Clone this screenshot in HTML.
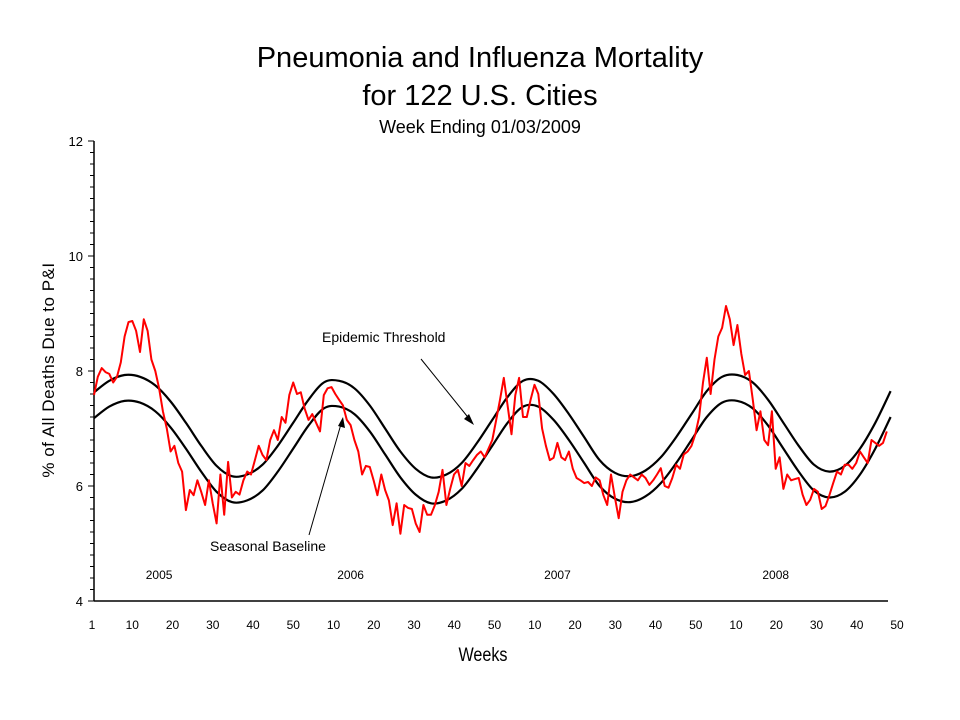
<!DOCTYPE html>
<html><head><meta charset="utf-8"><style>
body{margin:0;background:#fff;}
svg{display:block;font-family:"Liberation Sans",sans-serif;}
</style></head><body>
<svg id="chart" width="960" height="720" viewBox="0 0 960 720" xmlns="http://www.w3.org/2000/svg">
<text x="480" y="67" text-anchor="middle" font-size="29">Pneumonia and Influenza Mortality</text>
<text x="480" y="105" text-anchor="middle" font-size="29">for 122 U.S. Cities</text>
<text x="480" y="133" text-anchor="middle" font-size="18">Week Ending 01/03/2009</text>
<text transform="translate(54,370) rotate(-90)" text-anchor="middle" font-size="17" letter-spacing="0.5">% of All Deaths Due to P&amp;I</text>
<text x="483" y="661" text-anchor="middle" font-size="19" transform="translate(483,0) scale(0.85,1) translate(-483,0)">Weeks</text>
<g id="axes"></g>
<g id="series"></g>
<text x="322" y="342" font-size="14">Epidemic Threshold</text>
<line x1="421" y1="359" x2="471" y2="421" stroke="#000" stroke-width="1"/>
<polygon points="474,425 464,419 469,414" fill="#000"/>
<text x="210" y="551" font-size="14">Seasonal Baseline</text>
<line x1="309" y1="535" x2="341" y2="424" stroke="#000" stroke-width="1"/>
<polygon points="343,417 345,428 338,426" fill="#000"/>
</svg>
<script>
const years = ["2005","2006","2007","2008"];
const yearCenterWeeks = [17, 67, 121, 178];
const xTickLabels = ["1","10","20","30","40","50","10","20","30","40","50","10","20","30","40","50","10","20","30","40","50"];
const yTicks = [4,6,8,10,12];
const piValues = [7.58,7.9,8.05,7.98,7.95,7.8,7.9,8.15,8.6,8.85,8.87,8.7,8.33,8.9,8.7,8.2,8.0,7.7,7.3,7.0,6.6,6.7,6.4,6.25,5.58,5.93,5.84,6.1,5.9,5.67,6.1,5.7,5.35,6.2,5.5,6.42,5.8,5.9,5.85,6.1,6.25,6.2,6.45,6.7,6.54,6.45,6.8,6.97,6.8,7.2,7.1,7.58,7.8,7.6,7.63,7.35,7.15,7.25,7.1,6.95,7.58,7.7,7.72,7.6,7.5,7.4,7.15,7.06,6.8,6.6,6.2,6.35,6.33,6.1,5.84,6.2,5.93,5.75,5.32,5.7,5.17,5.67,5.62,5.6,5.35,5.2,5.67,5.5,5.5,5.67,5.9,6.28,5.67,5.95,6.2,6.28,6.0,6.4,6.35,6.45,6.54,6.6,6.5,6.65,6.8,7.15,7.5,7.88,7.4,6.9,7.58,7.88,7.2,7.2,7.5,7.76,7.6,7.0,6.7,6.45,6.49,6.75,6.5,6.45,6.6,6.3,6.14,6.1,6.05,6.07,6.0,6.15,6.1,5.84,5.67,6.2,5.8,5.44,5.9,6.1,6.2,6.15,6.1,6.2,6.14,6.02,6.1,6.2,6.31,6.0,5.97,6.14,6.37,6.3,6.55,6.6,6.7,6.9,7.2,7.8,8.23,7.6,8.2,8.6,8.75,9.13,8.9,8.45,8.8,8.3,7.93,8.0,7.5,6.97,7.3,6.8,6.71,7.3,6.3,6.5,5.95,6.2,6.1,6.12,6.14,5.85,5.67,5.76,5.95,5.9,5.6,5.65,5.84,6.05,6.25,6.2,6.37,6.37,6.3,6.4,6.6,6.5,6.4,6.8,6.75,6.7,6.75,6.95];
const baselineValues = [7.18,7.38,7.48,7.45,7.30,7.02,6.65,6.25,5.90,5.72,5.75,5.92,6.25,6.65,7.05,7.35,7.38,7.25,6.95,6.55,6.15,5.85,5.70,5.75,5.95,6.30,6.70,7.10,7.38,7.38,7.15,6.80,6.40,6.00,5.78,5.72,5.82,6.05,6.40,6.80,7.20,7.45,7.48,7.35,7.05,6.65,6.25,5.92,5.80,5.90,6.20,6.65,7.20];
const thresholdValues = [7.63,7.83,7.93,7.90,7.75,7.47,7.10,6.70,6.35,6.17,6.20,6.37,6.70,7.10,7.50,7.80,7.83,7.70,7.40,7.00,6.60,6.30,6.15,6.20,6.40,6.75,7.15,7.55,7.83,7.83,7.60,7.25,6.85,6.45,6.23,6.17,6.27,6.50,6.85,7.25,7.65,7.90,7.93,7.80,7.50,7.10,6.70,6.37,6.25,6.35,6.65,7.10,7.65];
const NS='http://www.w3.org/2000/svg';
const xW = w => 94 + w*3.83;
const yV = v => 601 - (v-4)*57.5;
const xLab = i => 92 + i*40.25;
function mk(tag, attrs, parent){const e=document.createElementNS(NS,tag);for(const k in attrs)e.setAttribute(k,attrs[k]);parent.appendChild(e);return e;}
const axes=document.getElementById('axes'), series=document.getElementById('series');
let el=mk('line',{x1:94,y1:141,x2:94,y2:601,stroke:'#000','stroke-width':1.5},axes);


el=mk('line',{x1:94,y1:601,x2:888,y2:601,stroke:'#000','stroke-width':1.5},axes);


for(let v=4; v<=12.001; v+=0.2){
  const major=Math.abs(v-Math.round(v/2)*2)<0.01;
  el=mk('line',{x1:major?88:90,y1:yV(v),x2:94,y2:yV(v),stroke:'#000','stroke-width':1},axes);
  
  
}
yTicks.forEach(v=>{
  el=mk('text',{x:83,y:yV(v)+5,'text-anchor':'end','font-size':13},axes);
  el.textContent=v;
  
  
});
xTickLabels.forEach((t,i)=>{
  el=mk('text',{x:xLab(i),y:629,'text-anchor':'middle','font-size':12},axes);
  el.textContent=t;
  
  
});
years.forEach((y,i)=>{
  el=mk('text',{x:xW(yearCenterWeeks[i]),y:579,'text-anchor':'middle','font-size':12},axes);
  el.textContent=y;
  
  
});
function path(vals, step){return vals.map((v,i)=>(i?'L':'M')+xW(i*step).toFixed(1)+','+yV(v).toFixed(1)).join(' ');}
function smooth(vals, step){
  const p=vals.map((v,i)=>[xW(i*step),yV(v)]);
  let d='M'+p[0][0].toFixed(1)+','+p[0][1].toFixed(1);
  for(let i=0;i<p.length-1;i++){
    const p0=p[Math.max(0,i-1)],p1=p[i],p2=p[i+1],p3=p[Math.min(p.length-1,i+2)];
    const c1=[p1[0]+(p2[0]-p0[0])/6,p1[1]+(p2[1]-p0[1])/6];
    const c2=[p2[0]-(p3[0]-p1[0])/6,p2[1]-(p3[1]-p1[1])/6];
    d+=' C'+c1[0].toFixed(1)+','+c1[1].toFixed(1)+' '+c2[0].toFixed(1)+','+c2[1].toFixed(1)+' '+p2[0].toFixed(1)+','+p2[1].toFixed(1);
  }
  return d;
}
el=mk('path',{d:smooth(thresholdValues,4),fill:'none',stroke:'#000','stroke-width':2.2,'stroke-linejoin':'round'},series);


el=mk('path',{d:smooth(baselineValues,4),fill:'none',stroke:'#000','stroke-width':2.2,'stroke-linejoin':'round'},series);


el=mk('path',{d:path(piValues,1),fill:'none',stroke:'#ff0000','stroke-width':2,'stroke-linejoin':'round'},series);


</script>
</body></html>
